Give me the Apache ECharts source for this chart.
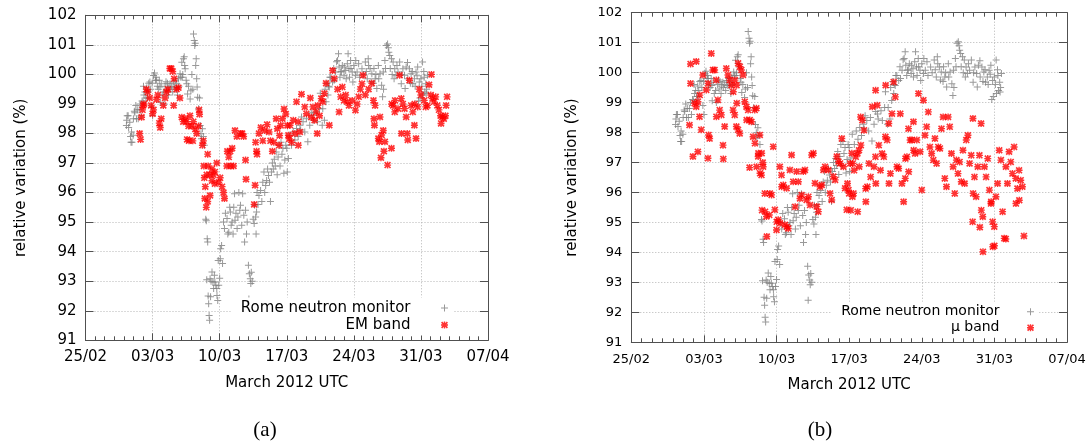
<!DOCTYPE html>
<html><head><meta charset="utf-8">
<script src="https://cdn.jsdelivr.net/npm/echarts@6/dist/echarts.min.js"></script>
<style>html,body{margin:0;padding:0;background:#fff}#c{width:1091px;height:443px}</style>
</head><body><div id="c"></div>
<script>
// x values: days since 2012-02-25 00:00 UTC
const dateLabels = ['25/02','03/03','10/03','17/03','24/03','31/03','07/04'];
const yTicks = [91,92,93,94,95,96,97,98,99,100,101,102];
const seriesNames = ['Rome neutron monitor','EM band','\u03bc band'];
const panelLabels = ['(a)','(b)'];

const neutron = [
[4.27,98.27],[4.3,98.45],[4.35,98.6],[4.45,98.6],[4.5,98.2],[4.62,98.38],[4.7,97.9],[4.75,97.7],[4.8,98.05],[4.85,97.7],[4.97,97.94],[5.0,98.5],[5.1,98.75],[5.15,98.7],[5.25,98.95],[5.32,98.5],[5.4,98.8],[5.5,98.5],[5.6,98.8],[5.7,99.0],
[5.8,98.6],[5.9,99.1],[6.0,99.06],[6.05,99.6],[6.1,99.3],[6.2,99.4],[6.3,99.2],[6.4,99.55],[6.45,99.2],[6.5,99.4],[6.6,99.7],[6.72,99.74],[6.8,99.5],[6.9,98.9],[6.95,99.7],[7.0,98.6],[7.1,99.96],[7.2,100.05],[7.3,99.8],[7.35,99.9],[7.42,99.8],[7.5,99.6],
[7.6,99.5],[7.7,99.8],[7.77,99.57],[7.8,99.06],[7.9,99.68],[8.0,99.3],[8.12,99.4],[8.2,99.0],[8.3,99.6],[8.4,99.75],[8.47,99.45],[8.55,99.7],[8.65,99.3],[8.7,99.55],[8.82,99.68],[8.9,99.5],
[9.0,99.6],[9.1,99.4],[9.17,99.74],[9.3,99.57],[9.4,99.8],[9.45,99.55],[9.52,99.68],[9.6,99.3],[9.7,99.85],[9.75,99.6],[9.87,100.02],[9.95,99.9],[10.05,100.41],[10.1,99.9],[10.15,100.0],[10.22,100.53],[10.3,100.6],[10.35,100.3],[10.4,100.19],[10.5,99.8],[10.57,99.68],[10.65,99.34],[10.75,99.6],[10.92,99.17],[11.0,99.45],
[11.1,100.0],[11.2,99.5],[11.27,101.37],[11.35,101.15],[11.4,100.98],[11.45,101.05],[11.5,100.3],[11.55,100.53],[11.6,99.85],[11.65,99.57],[11.7,99.23],[11.8,98.84],[11.9,99.2],[11.97,98.27],[12.05,97.99],[12.1,97.82],[12.2,98.16],[12.3,97.9],[12.4,97.6],
[12.55,95.1],[12.6,95.05],[12.65,93.05],[12.7,94.44],[12.75,94.33],[12.8,92.5],[12.85,92.24],[12.9,91.84],[12.95,91.68],[13.0,93.08],[13.05,92.47],[13.1,93.0],[13.2,93.31],[13.3,92.97],[13.37,92.75],[13.45,93.2],[13.5,92.97],[13.6,92.86],[13.7,92.75],[13.72,92.52],[13.8,92.35],[13.85,93.7],[13.9,92.86],[14.0,93.1],[14.07,93.76],[14.1,94.1],[14.2,94.21],[14.3,93.6],
[14.4,95.0],[14.5,94.78],[14.6,95.3],[14.77,95.12],[14.85,94.6],[14.95,94.66],[15.05,95.5],[15.12,95.34],[15.2,94.89],[15.3,95.0],[15.4,94.6],[15.47,95.5],[15.55,95.96],[15.6,95.06],[15.7,95.3],[15.82,94.78],[15.9,95.17],[16.0,96.0],[16.1,95.4],[16.17,95.57],[16.3,94.89],[16.4,95.96],[16.52,95.23],[16.6,94.33],[16.7,95.4],[16.8,94.6],[16.87,95.0],
[17.0,93.54],[17.05,92.4],[17.1,93.25],[17.2,93.08],[17.25,92.92],[17.3,93.3],[17.4,93.0],
[17.5,95.1],[17.6,94.95],[17.65,95.57],[17.75,95.17],[17.8,94.6],[17.85,95.34],[17.9,96.0],[18.0,95.6],[18.1,95.9],[18.27,96.07],[18.4,95.7],[18.5,96.35],[18.62,96.7],[18.7,96.0],[18.8,96.24],[18.9,96.41],[19.0,96.8],
[19.1,96.58],[19.2,96.35],[19.3,95.7],[19.4,96.7],[19.5,97.0],[19.6,96.8],[19.7,97.13],[19.8,96.9],[19.9,97.37],[20.0,96.6],[20.1,97.2],[20.2,97.6],[20.3,96.9],[20.4,97.7],[20.5,97.3],[20.6,97.5],[20.7,96.65],[20.8,97.1],[20.9,97.6],
[21.0,97.5],[21.05,96.7],[21.17,97.15],[21.3,97.94],[21.5,97.6],[21.68,98.05],[21.85,97.78],[22.02,98.17],[22.19,97.9],[22.37,98.28],[22.45,98.12],[22.54,98.56],[22.7,98.4],[22.88,98.05],[23.05,98.5],[23.2,97.72],[23.4,98.28],[23.56,98.7],[23.73,98.62],[23.8,98.45],[24.07,98.73],[24.2,98.4],[24.42,98.84],[24.5,99.36],[24.7,98.28],[24.76,98.84],[24.93,98.45],[25.0,99.5],[25.1,99.07],[25.2,99.7],[25.3,99.3],[25.35,99.6],[25.44,99.57],[25.5,99.9],[25.6,99.9],[25.78,99.74],[25.9,100.2],[25.95,99.8],
[26.1,100.08],[26.2,100.43],[26.3,100.47],[26.4,100.7],[26.46,100.25],[26.55,99.9],[26.63,100.08],[26.7,100.1],[26.8,100.3],[26.98,99.97],[27.0,100.25],[27.15,100.13],[27.2,99.85],[27.32,100.36],[27.4,100.7],[27.49,100.19],[27.55,99.9],[27.66,100.47],[27.7,100.2],[27.83,100.08],[27.9,99.74],[28.0,100.3],[28.17,99.97],[28.2,100.47],
[28.34,100.08],[28.5,100.36],[28.6,99.9],[28.85,100.19],[29.0,100.0],[29.2,100.42],[29.3,100.1],[29.4,99.85],[29.5,100.53],[29.54,100.3],[29.7,100.19],[29.8,99.75],[29.88,100.02],[30.05,99.7],[30.1,100.2],[30.22,99.85],[30.3,100.0],[30.4,99.52],[30.56,100.3],[30.6,99.85],[30.73,100.02],[30.9,99.63],[31.0,99.24],[31.07,100.08],[31.1,99.5],[31.24,100.47],[31.3,100.2],[31.4,100.98],[31.52,101.03],[31.6,100.9],[31.65,100.75],[31.75,100.64],[31.8,100.2],[31.93,100.53],[32.0,100.0],[32.1,100.42],[32.2,99.85],[32.27,100.19],[32.4,99.97],[32.5,100.3],[32.61,100.08],
[32.78,100.42],[32.95,99.68],[33.0,100.0],[33.12,100.19],[33.29,99.97],[33.35,99.52],[33.46,100.25],[33.6,100.4],[33.63,99.85],[33.8,100.19],[33.9,99.7],[33.98,100.02],[34.1,100.1],[34.15,99.68],[34.32,99.85],[34.4,99.6],[34.49,100.08],[34.6,99.95],[34.66,100.25],[34.75,99.1],[34.83,99.74],[34.9,99.2],[35.0,99.85],[35.1,99.6],[35.17,100.42],[35.2,99.3],[35.3,100.1],[35.34,99.9],[35.4,99.4],[35.51,99.68],[35.55,99.35],[35.6,99.5],[35.68,99.97]
];

const emBand = [
[5.65,98.0],[5.75,97.8],[5.85,98.55],[5.95,98.8],[6.02,98.95],[6.1,99.0],[6.35,99.5],[6.5,99.4],[6.7,99.2],[6.85,98.95],[7.0,98.67],[7.1,98.8],[7.42,99.15],[7.55,99.3],[7.7,98.35],[7.8,98.2],[7.9,98.5],[8.12,98.95],[8.3,99.2],[8.45,99.4],[8.6,99.5],[8.8,100.2],[8.95,100.2],[9.1,100.1],[9.2,98.95],[9.25,99.85],[9.5,99.5],[9.7,99.55],[9.85,99.2],
[10.05,98.55],[10.2,98.4],[10.4,98.5],[10.55,98.4],[10.6,97.8],[10.75,98.25],[10.8,97.75],[10.9,98.6],[11.1,98.25],[11.2,97.75],[11.25,98.4],[11.45,98.15],[11.6,98.0],[11.8,98.25],[11.85,98.8],[11.9,98.65],[12.2,97.6],[12.3,97.75],
[12.35,96.9],[12.4,96.5],[12.45,95.8],[12.5,96.2],[12.6,95.5],[12.65,96.6],[12.75,97.3],[12.75,95.7],[12.8,96.9],[13.0,96.6],[13.0,95.9],[13.2,96.8],[13.2,96.4],[13.35,96.6],[13.5,96.7],[13.5,96.3],[13.7,97.0],[13.9,96.35],[14.05,96.5],[14.25,96.2],[14.4,96.0],[14.5,95.8],
[14.75,96.9],[14.8,97.4],[14.95,97.2],[15.1,97.4],[15.15,96.9],[15.3,97.5],[15.45,96.9],[15.6,98.1],[15.8,97.9],[16.2,98.0],[16.35,98.0],[16.5,97.9],[16.7,97.1],[16.75,96.45],[17.6,95.6],[17.7,96.25],[17.75,97.7],[17.85,97.4],[17.9,97.3],[18.1,98.0],[18.3,98.2],[18.5,97.75],[18.7,98.1],[18.95,98.3],[19.15,98.05],[19.3,97.75],[19.5,97.4],[19.65,97.7],[19.9,98.5],[20.02,98.16],[20.2,97.6],[20.25,97.93],[20.37,98.27],[20.55,98.5],[20.72,98.83],[20.9,98.66],
[21.07,98.27],[21.17,97.94],[21.25,97.82],[21.34,98.28],[21.5,97.7],[21.68,98.45],[21.85,98.0],[22.02,99.07],[22.19,98.4],[22.2,97.6],[22.37,98.05],[22.54,99.33],[22.88,98.9],[23.05,98.67],[23.46,99.2],[23.56,98.55],[23.73,98.9],[23.9,98.45],[24.07,98.73],[24.18,98.0],[24.25,98.95],[24.42,98.6],[24.6,99.18],[24.76,99.07],[24.93,99.35],[25.1,99.7],[25.44,98.28],
[25.78,100.13],[25.95,99.85],[26.3,99.5],[26.46,98.73],[26.63,99.24],[26.8,99.57],[26.98,99.12],[27.15,99.3],[27.32,99.07],[27.49,98.95],[27.83,99.12],[28.17,98.79],[28.34,99.0],[28.51,99.24],[28.68,99.5],[28.85,99.68],[28.96,99.97],
[29.2,99.3],[29.54,99.5],[29.88,99.7],[30.05,99.12],[30.1,98.5],[30.15,98.28],[30.22,98.95],[30.56,97.83],[30.66,97.72],[30.73,98.56],[30.83,97.18],[30.9,97.95],[31.07,98.1],[31.14,97.4],[31.24,97.72],[31.52,96.93],[31.93,97.5],[31.95,99.0],[32.1,98.95],[32.27,98.73],[32.3,99.12],
[32.61,98.84],[32.78,99.97],[32.95,99.18],[32.97,98.0],[33.12,99.0],[33.29,98.84],[33.46,98.56],[33.57,98.0],[33.63,97.78],[33.8,99.8],[33.98,98.95],[34.15,98.73],[34.32,98.28],[34.35,99.0],[34.49,97.83],[34.66,98.9],[34.83,99.5],[35.0,99.3],
[35.34,99.12],[35.51,98.9],[35.68,98.95],[35.85,99.65],[36.03,99.3],[36.1,100.0],[36.2,99.18],[36.37,99.07],[36.54,99.24],[36.71,98.95],[36.88,98.8],[37.05,98.6],[37.1,98.34],[37.22,98.56],[37.39,98.5],[37.56,98.6],[37.63,98.95],[37.73,99.24]
];

const muBand = [
[5.61,98.25],[5.71,99.64],[5.71,100.29],[5.94,97.2],[6.1,98.98],[6.26,100.37],[6.26,98.86],[6.42,99.03],[6.42,97.36],[6.58,98.53],[6.6,99.25],[6.74,98.09],[6.9,99.92],[7.23,99.42],[7.39,97.14],[7.4,99.64],[7.45,97.92],[7.55,97.8],[7.71,100.64],[7.87,100.09],
[8.03,100.09],[8.19,99.75],[8.2,98.53],[8.35,99.09],[8.52,98.75],[8.68,98.59],[8.84,97.58],[8.87,97.12],[9.0,98.2],[9.16,100.14],[9.32,99.92],[9.48,99.75],[9.65,99.58],[9.81,98.75],[9.83,99.36],[9.97,98.59],[9.99,99.75],
[10.13,98.2],[10.15,99.58],[10.17,98.98],[10.29,98.09],[10.3,100.31],[10.45,97.97],[10.47,100.2],[10.61,100.09],[10.77,99.92],[10.94,99.03],[11.1,98.86],[11.12,98.42],[11.26,98.75],[11.4,96.83],[11.42,98.42],[11.58,98.36],[11.74,97.86],[11.9,98.75],[11.92,97.64],
[12.06,98.81],[12.08,96.86],[12.23,97.2],[12.25,97.31],[12.39,97.92],[12.41,96.64],[12.55,96.58],[12.57,97.31],[12.6,95.41],[12.67,97.0],[12.71,96.86],[12.87,95.97],[12.9,95.36],[13.03,95.2],[13.06,94.53],[13.3,95.25],[13.36,95.97],[13.52,95.92],[13.68,97.53],[13.84,95.42],
[14.0,94.75],[14.02,95.02],[14.16,95.09],[14.32,96.86],[14.34,94.97],[14.48,96.58],[14.5,96.19],[14.65,96.25],[14.81,94.92],[14.97,96.14],[15.0,94.86],[15.13,94.8],[15.29,96.75],[15.45,97.25],[15.61,96.36],[15.8,95.52],[15.94,96.7],
[16.1,96.36],[16.26,95.8],[16.42,95.92],[16.58,96.7],[16.74,96.75],[16.9,95.75],[17.07,95.86],[17.23,95.58],[17.39,97.25],[17.55,97.31],[17.71,96.31],[17.87,95.53],[18.03,95.36],[18.19,96.19],[18.36,96.25],[18.52,96.75],[18.68,96.86],[19.0,96.75],[19.16,95.97],[19.32,95.75],[19.48,96.53],[19.65,96.42],[19.81,97.2],[19.97,97.03],
[20.13,96.97],[20.29,97.8],[20.45,96.86],[20.61,96.14],[20.77,95.42],[20.84,96.3],[20.94,96.08],[21.0,95.97],[21.1,96.97],[21.16,95.41],[21.26,97.31],[21.32,95.86],[21.35,96.97],[21.42,95.97],[21.48,96.74],[21.64,97.19],[21.8,97.3],[21.82,95.36],[21.95,97.41],[21.97,96.86],
[22.11,98.52],[22.13,97.58],[22.27,98.41],[22.43,98.08],[22.59,96.13],[22.61,95.69],[22.75,96.19],[22.91,96.97],[23.07,96.52],[23.23,98.86],[23.39,96.86],[23.54,97.19],[23.55,99.41],[23.57,96.3],[23.7,98.91],[23.86,97.58],
[24.02,96.74],[24.18,97.3],[24.34,97.19],[24.5,97.86],[24.52,99.58],[24.66,97.75],[24.82,98.3],[24.84,96.3],[24.98,96.63],[25.13,98.63],[25.29,99.69],[25.45,99.19],[25.61,96.86],[25.77,96.8],[25.93,98.63],
[26.09,96.3],[26.25,95.69],[26.41,96.47],[26.43,97.13],[26.57,97.19],[26.72,98.13],[26.74,96.69],[26.88,97.75],[27.04,97.75],[27.2,98.36],[27.22,97.41],[27.36,97.3],[27.52,97.75],[27.68,99.3],[27.84,97.36],[28.0,96.08],
[28.16,99.08],[28.31,97.91],[28.47,98.19],[28.63,98.69],[28.79,97.52],[28.95,97.3],[29.11,97.08],[29.27,97.8],[29.43,96.97],[29.59,97.52],[29.75,97.47],[29.9,98.13],[30.06,98.52],[30.22,96.47],[30.38,96.19],[30.54,98.52],[30.7,98.19],[30.86,97.3],
[31.02,96.86],[31.18,95.97],[31.34,97.08],[31.49,96.63],[31.65,97.02],[31.81,96.36],[31.97,97.41],[32.13,96.3],[32.29,97.75],[32.45,97.91],[32.61,96.97],[32.77,97.24],[32.9,95.02],[32.93,98.47],[32.95,95.97],
[33.08,96.52],[33.24,95.86],[33.4,96.86],[33.56,97.24],[33.6,94.84],[33.72,98.3],[33.74,95.41],[33.88,95.19],[33.9,94.02],[34.04,96.86],[34.2,96.52],[34.36,97.13],[34.52,96.08],[34.67,95.63],[34.69,95.69],[34.83,95.02],[34.85,94.19],[34.99,94.86],[35.0,94.22],
[35.15,95.86],[35.31,96.3],[35.47,97.41],[35.63,97.08],[35.79,95.36],[35.95,94.47],[36.1,94.45],[36.11,96.86],[36.26,96.3],[36.42,97.36],[36.58,97.02],[36.74,96.63],[36.9,97.52],[37.06,96.47],[37.08,95.63],[37.22,96.13],[37.38,96.74],[37.4,95.74],[37.54,96.41],[37.7,96.19],[37.85,94.55]
];

const plusSym = 'path://M3,0H4V3H7V4H4V7H3V4H0V3H3Z';
const starSym = 'path://M2.4,0H3.6V2.4H6V3.6H3.6V6H2.4V3.6H0V2.4H2.4Z M0,1L1,0L6,5L5,6Z M5,0L6,1L1,6L0,5Z';

const FONT = 'DejaVu Sans';
const axisCol = '#505050';
const gridCol = '#b4b4b4';

function xAxes(gridIndex, fs, margin) {
  const common = {
    gridIndex, type: 'value', min: 0, max: 42, interval: 7,
    axisLine: {show: true, onZero: false, lineStyle: {color: axisCol, width: 1}},
    axisTick: {show: true, inside: true, length: 7, lineStyle: {color: axisCol}},
    minorTick: {show: true, splitNumber: 7, length: 4, lineStyle: {color: axisCol}},
  };
  return [
    Object.assign({}, common, {
      position: 'bottom',
      name: 'March 2012 UTC', nameLocation: 'middle', nameGap: 35,
      nameTextStyle: {fontFamily: FONT, fontSize: 15, color: '#000'},
      axisLabel: {fontFamily: FONT, fontSize: fs, color: '#000', margin: margin,
        formatter: v => dateLabels[Math.round(v / 7)]},
      splitLine: {show: true, lineStyle: {color: gridCol, type: [1, 2], width: 1}}
    }),
    Object.assign({}, common, {
      position: 'top', axisLabel: {show: false}, splitLine: {show: false}
    })
  ];
}
function yAxes(gridIndex, fs, nameGap) {
  const common = {
    gridIndex, type: 'value', min: yTicks[0], max: yTicks[yTicks.length - 1], interval: 1,
    axisLine: {show: true, onZero: false, lineStyle: {color: axisCol, width: 1}},
    axisTick: {show: true, inside: true, length: 8, lineStyle: {color: axisCol}},
  };
  return [
    Object.assign({}, common, {
      position: 'left',
      name: 'relative variation (%)', nameLocation: 'middle', nameGap: nameGap,
      nameTextStyle: {fontFamily: FONT, fontSize: 15, color: '#000'},
      axisLabel: {fontFamily: FONT, fontSize: fs, color: '#000', margin: 9},
      splitLine: {show: true, lineStyle: {color: gridCol, type: [1, 2], width: 1}}
    }),
    Object.assign({}, common, {
      position: 'right', axisLabel: {show: false}, splitLine: {show: false}
    })
  ];
}

const chart = echarts.init(document.getElementById('c'), null, {renderer: 'canvas'});
chart.setOption({
  animation: false,
  backgroundColor: '#fff',
  grid: [
    {left: 85.5, top: 15.3, width: 402.5, height: 325},
    {left: 631.3, top: 12.7, width: 435.7, height: 329.6}
  ],
  xAxis: [...xAxes(0, 15, 9), ...xAxes(1, 13, 11)],
  yAxis: [...yAxes(0, 15, 57), ...yAxes(1, 13, 52)],
  legend: [
    {data: [seriesNames[0], seriesNames[1]], orient: 'vertical', align: 'right',
     right: 638, top: 297.5, itemWidth: 58, itemHeight: 7, itemGap: 0,
     padding: [2, 5, 2, 10], backgroundColor: '#fff', selectedMode: false,
     textStyle: {fontFamily: FONT, fontSize: 15, color: '#000', lineHeight: 17}},
    {data: [seriesNames[0], seriesNames[2]], orient: 'vertical', align: 'right',
     right: 52, top: 301.7, itemWidth: 52, itemHeight: 7, itemGap: 0,
     padding: [2, 5, 2, 10], backgroundColor: '#fff', selectedMode: false,
     textStyle: {fontFamily: FONT, fontSize: 14, color: '#000', lineHeight: 16}}
  ],
  graphic: [
    {type: 'text', style: {text: panelLabels[0], font: '21px "Liberation Serif"', fill: '#000', textAlign: 'center', textVerticalAlign: 'middle', x: 265, y: 430}},
    {type: 'text', style: {text: panelLabels[1], font: '21px "Liberation Serif"', fill: '#000', textAlign: 'center', textVerticalAlign: 'middle', x: 820, y: 430}}
  ],
  series: [
    {name: seriesNames[0], type: 'scatter', xAxisIndex: 0, yAxisIndex: 0, data: neutron,
     symbol: plusSym, symbolSize: 7, itemStyle: {color: '#808080'}, z: 2},
    {name: seriesNames[1], type: 'scatter', xAxisIndex: 0, yAxisIndex: 0, data: emBand,
     symbol: starSym, symbolSize: 7, itemStyle: {color: '#ff0000'}, z: 3},
    {name: seriesNames[0], type: 'scatter', xAxisIndex: 2, yAxisIndex: 2, data: neutron,
     symbol: plusSym, symbolSize: 7, itemStyle: {color: '#808080'}, z: 2},
    {name: seriesNames[2], type: 'scatter', xAxisIndex: 2, yAxisIndex: 2, data: muBand,
     symbol: starSym, symbolSize: 7, itemStyle: {color: '#ff0000'}, z: 3}
  ]
});
</script>
</body></html>
